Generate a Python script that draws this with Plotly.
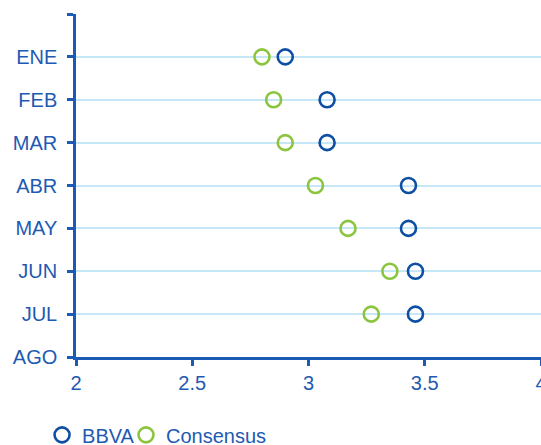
import plotly.graph_objects as go

months = ["ENE", "FEB", "MAR", "ABR", "MAY", "JUN", "JUL", "AGO"]
bbva = [2.90, 3.08, 3.08, 3.43, 3.43, 3.46, 3.46]
consensus = [2.80, 2.85, 2.90, 3.03, 3.17, 3.35, 3.27]
x_ticks = [2, 2.5, 3, 3.5, 4]
x_ticktext = ["2", "2.5", "3", "3.5", "4"]

# y positions: ENE at top (7) down to AGO at bottom (0)
n = len(months)
ypos = {m: n - 1 - i for i, m in enumerate(months)}
y_vals = [ypos[m] for m in months[:len(bbva)]]

BLUE = "#0E4FA3"
GREEN = "#8BC53F"
AXIS = "#1B5AB5"
GRID = "#C6E7F7"
TEXT = "#1E5AB2"

fig = go.Figure()
fig.add_trace(go.Scatter(
    x=bbva, y=y_vals, mode="markers", name="BBVA", legend="legend",
    marker=dict(symbol="circle-open", size=15, color=BLUE, line=dict(width=2.6, color=BLUE)),
))
fig.add_trace(go.Scatter(
    x=consensus, y=y_vals, mode="markers", name="Consensus", legend="legend2",
    marker=dict(symbol="circle-open", size=15, color=GREEN, line=dict(width=2.6, color=GREEN)),
))

leg_common = dict(orientation="h", xanchor="left", y=-0.227, yanchor="middle",
                  font=dict(size=20, color=TEXT), itemwidth=30,
                  bgcolor="rgba(0,0,0,0)")

fig.update_layout(
    width=541, height=445,
    margin=dict(l=76, r=0, t=14, b=88, autoexpand=False),
    paper_bgcolor="white", plot_bgcolor="white",
    font=dict(family="Liberation Sans, Arial, sans-serif", size=20, color=TEXT),
    showlegend=True,
    legend=dict(x=-0.073, **leg_common),
    legend2=dict(x=0.1075, **leg_common),
    xaxis=dict(range=[2, 4], tickvals=x_ticks, ticktext=x_ticktext, automargin=False,
               showgrid=False, zeroline=False, showline=True, linecolor=AXIS, linewidth=2.5,
               ticks="outside", ticklen=6, tickwidth=2.5, tickcolor=AXIS,
               ticklabelstandoff=0, ticklabeloverflow="allow"),
    yaxis=dict(range=[0, n], tickvals=list(range(n + 1)), automargin=False,
               ticktext=[months[n - 1 - v] if v < n else "" for v in range(n + 1)],
               showgrid=True, gridcolor=GRID, gridwidth=1.5, zeroline=False,
               showline=True, linecolor=AXIS, linewidth=2.5,
               ticks="outside", ticklen=6, tickwidth=2.5, tickcolor=AXIS,
               ticklabelstandoff=6),
)

fig.write_html(
    "out.html",
    config={"displayModeBar": False},
    post_script="document.body.style.margin='0px';document.body.style.overflow='hidden';",
)
